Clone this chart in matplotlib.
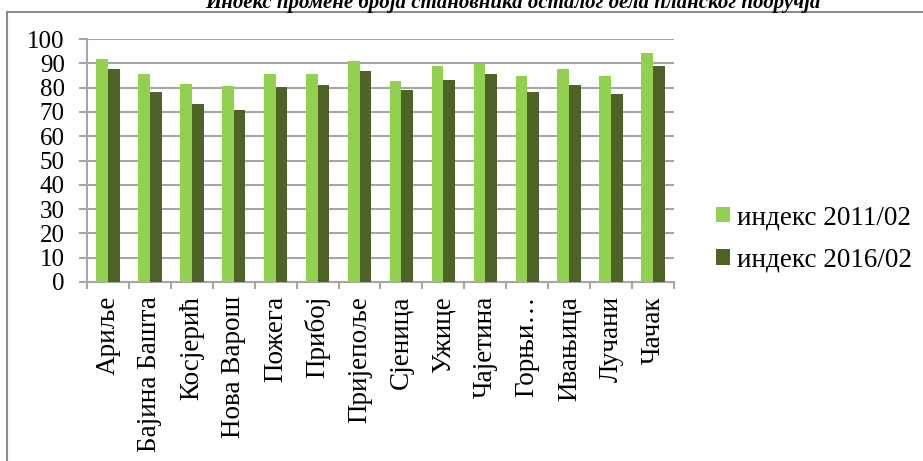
import matplotlib
matplotlib.use("Agg")
import matplotlib.pyplot as plt
from matplotlib.patches import Rectangle, Patch
import numpy as np

categories = ["Ариље", "Бајина Башта", "Косјерић", "Нова Варош", "Пожега", "Прибој",
              "Пријепоље", "Сјеница", "Ужице", "Чајетина", "Горњи…", "Ивањица",
              "Лучани", "Чачак"]
idx_2011 = [91.8, 85.8, 81.6, 80.6, 85.8, 85.8, 90.8, 82.7, 89.0, 89.7, 84.9, 87.5, 84.9, 94.4]
idx_2016 = [87.6, 78.0, 73.2, 70.6, 80.1, 81.2, 86.9, 79.0, 83.2, 85.8, 78.0, 81.2, 77.5, 89.0]
series_names = ["индекс 2011/02", "индекс 2016/02"]
title = "Индекс промене броја становника осталог дела планског подручја"

light = "#92D050"
dark = "#4F6228"
grid_c = "#A6A6A6"

plt.rcParams["font.family"] = ["Liberation Serif", "DejaVu Serif"]

W, H = 923, 461
fig = plt.figure(figsize=(W / 100, H / 100), dpi=100)

# outer frame
fig.patches.append(Rectangle((7 / W, -0.1), 1.2, 1 - 12 / H + 0.1, transform=fig.transFigure,
                             fill=False, edgecolor="#8C8C8C", linewidth=1.5))

ax = fig.add_axes([87 / W, 1 - 282 / H, (674 - 87) / W, (282 - 39) / H])
x = np.arange(len(categories))
bw = 0.28
ax.bar(x - bw / 2, idx_2011, width=bw, color=light, zorder=3)
ax.bar(x + bw / 2, idx_2016, width=bw, color=dark, zorder=3)

ax.set_xlim(-0.5, len(categories) - 0.5)
ax.set_ylim(0, 100)
ax.set_yticks(np.arange(0, 101, 10))
ax.yaxis.grid(True, color=grid_c, linewidth=1.5, zorder=0)
ax.set_axisbelow(True)
for s in ["top", "right"]:
    ax.spines[s].set_visible(False)
ax.spines["left"].set_color(grid_c)
ax.spines["bottom"].set_color(grid_c)
ax.spines["left"].set_linewidth(1.5)
ax.spines["bottom"].set_linewidth(1.5)

ax.set_xticks(x)
ax.set_xticklabels(categories, rotation=90, fontsize=19.5)
ax.set_xticks(np.arange(-0.5, len(categories), 1), minor=True)
ax.tick_params(axis="x", which="major", length=0, pad=10)
ax.tick_params(axis="x", which="minor", length=5, color=grid_c, width=1.5)
ax.tick_params(axis="y", length=6, color=grid_c, width=1.5, labelsize=18, pad=10)

handles = [Patch(facecolor=light), Patch(facecolor=dark)]
fig.legend(handles, series_names, loc="center left", bbox_to_anchor=(716 / W, 1 - 239 / H),
           frameon=False, fontsize=19.5, handlelength=0.52, handleheight=0.52,
           handletextpad=0.25, labelspacing=0.65, borderpad=0, borderaxespad=0)

fig.text(513 / W, 1 - 8 / H, title, ha="center", va="baseline", fontsize=15,
         fontweight="bold", fontstyle="italic")

fig.savefig("out.png", dpi=100)
